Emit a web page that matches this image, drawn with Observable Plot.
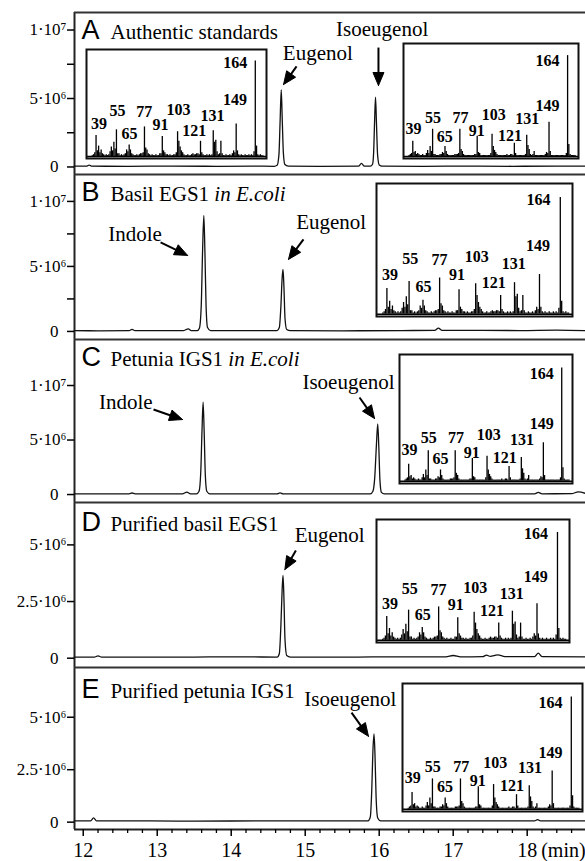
<!DOCTYPE html>
<html>
<head>
<meta charset="utf-8">
<script src="https://cdn.jsdelivr.net/npm/d3@7"></script>
<script src="https://cdn.jsdelivr.net/npm/@observablehq/plot@0.6"></script>
<style>
  html, body { margin: 0; padding: 0; background: #fff; }
  #fig { position: relative; width: 585px; height: 861px; overflow: hidden; background: #fff; }
  #fig > svg { position: absolute; }
</style>
</head>
<body>
<div id="fig"></div>
<script>
// ---------------- DATA ----------------
// retention time axis (min)
const timeTicks = [12, 13, 14, 15, 16, 17, 18];
const timeMinorTicks = [12.2, 12.4, 12.6, 12.8, 13.2, 13.4, 13.6, 13.8, 14.2, 14.4, 14.6, 14.8,
  15.2, 15.4, 15.6, 15.8, 16.2, 16.4, 16.6, 16.8, 17.2, 17.4, 17.6, 17.8, 18.2, 18.4, 18.6];
const timeUnit = "(min)";

// intensity ticks (values in units of 10^6 counts)
const yTickLabels = {0: "0", 2.5: "2.5·10⁶", 5: "5·10⁶", 10: "1·10⁷"};
const yMajorA = [0, 5, 10], yMinorA = [2.5, 7.5];
const yMajorB = [0, 5, 10], yMinorB = [2.5, 7.5];
const yMajorC = [0, 5, 10], yMinorC = [];
const yMajorD = [0, 2.5, 5], yMinorD = [];
const yMajorE = [0, 2.5, 5], yMinorE = [];

const panelLetters = ["A", "B", "C", "D", "E"];
const panelTitles = ["Authentic standards", "Basil EGS1", "Petunia IGS1", "Purified basil EGS1", "Purified petunia IGS1"];
const panelTitlesItalic = ["", "in E.coli", "in E.coli", "", ""];

// chromatograms: [time (min), intensity (10^6)]
const chromA = [[11.88,0.06],[12.05,0.06],[12.08,0.14],[12.11,0.06],[12.6,0.05],[13.2,0.06],[13.8,0.05],[14.3,0.06],
  [14.58,0.05],[14.62,0.12],[14.645,0.9],[14.66,3.2],[14.676,5.63],[14.69,3.4],[14.705,1.0],[14.725,0.18],[14.77,0.06],
  [15.2,0.05],[15.72,0.06],[15.76,0.26],[15.80,0.06],[15.88,0.06],[15.91,0.2],[15.925,1.1],[15.938,3.4],[15.95,5.09],
  [15.963,3.2],[15.978,0.9],[16.0,0.15],[16.04,0.06],[16.6,0.05],[17.2,0.06],[17.8,0.05],[18.4,0.06],[18.79,0.06]];
const chromB = [[11.88,0.06],[12.2,0.05],[12.62,0.06],[12.66,0.16],[12.70,0.06],[13.35,0.06],[13.42,0.2],[13.46,0.07],
  [13.54,0.06],[13.57,0.25],[13.595,2.0],[13.613,6.2],[13.63,8.92],[13.645,6.0],[13.66,2.0],[13.68,0.3],[13.72,0.07],
  [14.3,0.06],[14.62,0.06],[14.65,0.3],[14.672,2.0],[14.688,4.1],[14.70,4.77],[14.712,3.5],[14.727,1.0],[14.75,0.15],
  [14.8,0.06],[15.5,0.05],[16.3,0.07],[16.75,0.08],[16.80,0.26],[16.85,0.08],[17.4,0.08],[17.9,0.07],[18.4,0.1],[18.79,0.06]];
const chromC = [[11.88,0.06],[12.62,0.06],[12.66,0.14],[12.70,0.06],[13.34,0.06],[13.40,0.22],[13.45,0.07],[13.53,0.06],
  [13.565,0.3],[13.588,2.0],[13.605,5.8],[13.62,8.47],[13.635,5.6],[13.65,1.8],[13.67,0.3],[13.71,0.07],[14.2,0.06],
  [14.62,0.06],[14.66,0.15],[14.70,0.06],[15.3,0.06],[15.88,0.06],[15.915,0.3],[15.94,1.6],[15.962,4.5],[15.98,6.49],
  [15.995,4.3],[16.01,1.3],[16.03,0.2],[16.07,0.06],[16.8,0.06],[17.5,0.07],[18.1,0.07],[18.15,0.2],[18.2,0.07],
  [18.6,0.08],[18.69,0.25],[18.79,0.1]];
const chromD = [[11.88,0.05],[12.15,0.05],[12.2,0.1],[12.25,0.05],[13.3,0.05],[14.1,0.06],[14.62,0.05],[14.65,0.2],
  [14.672,1.5],[14.688,3.0],[14.70,3.65],[14.712,2.7],[14.727,0.8],[14.75,0.12],[14.8,0.05],[15.5,0.05],[16.3,0.06],
  [16.9,0.06],[17.0,0.12],[17.1,0.06],[17.4,0.07],[17.45,0.14],[17.5,0.08],[17.6,0.15],[17.7,0.07],[18.1,0.07],
  [18.15,0.22],[18.2,0.07],[18.79,0.06]];
const chromE = [[11.88,0.06],[12.1,0.06],[12.14,0.2],[12.18,0.06],[12.9,0.06],[13.5,0.05],[14.5,0.06],[15.3,0.06],
  [15.85,0.06],[15.88,0.25],[15.9,1.6],[15.915,3.4],[15.93,4.21],[15.943,3.2],[15.958,1.2],[15.98,0.2],[16.02,0.06],
  [17.0,0.06],[17.6,0.06],[18.1,0.06],[18.14,0.12],[18.18,0.06],[18.79,0.06]];

// peak annotations: label position and arrow (start -> tip) in data units
const peakLabelsA = [{name: "Eugenol", t: 15.17, v: 8.28}, {name: "Isoeugenol", t: 16.04, v: 10.09}];
const peakArrowsA = [{t1: 14.883, v1: 7.34, t2: 14.707, v2: 6.02}, {t1: 15.99, v1: 8.72, t2: 15.99, v2: 5.95}];
const peakLabelsB = [{name: "Indole", t: 12.70, v: 7.46}, {name: "Eugenol", t: 15.35, v: 8.36}];
const peakArrowsB = [{t1: 13.045, v1: 6.85, t2: 13.41, v2: 5.85}, {t1: 14.977, v1: 7.08, t2: 14.774, v2: 5.54}];
const peakLabelsC = [{name: "Indole", t: 12.576, v: 8.47}, {name: "Isoeugenol", t: 15.585, v: 10.30}];
const peakArrowsC = [{t1: 12.95, v1: 7.80, t2: 13.342, v2: 6.88}, {t1: 15.734, v1: 8.90, t2: 15.937, v2: 6.97}];
const peakLabelsD = [{name: "Eugenol", t: 15.33, v: 5.41}];
const peakArrowsD = [{t1: 14.874, v1: 4.75, t2: 14.725, v2: 3.91}];
const peakLabelsE = [{name: "Isoeugenol", t: 15.61, v: 5.88}];
const peakArrowsE = [{t1: 15.626, v1: 5.22, t2: 15.855, v2: 4.09}];

// mass spectra: [m/z, relative intensity %]
const eugenolSpectrum = [[36,1],[37,2],[38,4],[39,22],[40,6],[41,11],[42,4],[43,7],[44,3],[45,2],[46,1],[47,2],[48,1],[49,2],
  [50,5],[51,10],[52,6],[53,15],[54,8],[55,28],[56,3],[57,3],[58,1],[59,2],[60,1],[61,2],[62,3],[63,7],[64,5],[65,12],[66,7],
  [67,3],[68,2],[69,1],[70,1],[71,2],[72,1],[73,2],[74,3],[75,3],[76,4],[77,31],[78,9],[79,7],[80,3],[81,2],[82,1],[83,2],
  [84,1],[85,1],[86,2],[87,1],[88,1],[89,3],[90,3],[91,21],[92,6],[93,4],[94,2],[95,2],[96,1],[97,2],[98,1],[99,1],[100,2],
  [101,2],[102,4],[103,26],[104,16],[105,10],[106,6],[107,4],[108,2],[109,1],[110,1],[111,2],[112,1],[113,1],[114,2],[115,3],
  [116,2],[117,2],[118,3],[119,3],[120,2],[121,16],[122,4],[123,2],[124,1],[125,1],[126,2],[127,1],[128,2],[129,1],[130,2],
  [131,27],[132,15],[133,17],[134,5],[135,2],[136,3],[137,16],[138,3],[139,1],[140,1],[141,2],[142,1],[143,1],[144,2],[145,1],
  [146,3],[147,6],[148,4],[149,34],[150,6],[151,2],[152,1],[153,2],[154,1],[155,1],[156,2],[157,1],[158,1],[159,2],[160,1],
  [161,2],[162,1],[163,5],[164,100],[165,11],[166,2],[167,1],[168,2],[169,1],[170,1]];
const isoeugenolSpectrum = [[36,1],[37,2],[38,3],[39,15],[40,4],[41,5],[42,2],[43,3],[44,2],[45,1],[46,1],[47,2],[48,1],[49,1],
  [50,3],[51,6],[52,3],[53,10],[54,5],[55,27],[56,2],[57,2],[58,1],[59,1],[60,1],[61,2],[62,2],[63,4],[64,3],[65,10],[66,5],
  [67,2],[68,1],[69,1],[70,1],[71,1],[72,1],[73,2],[74,2],[75,2],[76,3],[77,27],[78,7],[79,5],[80,2],[81,1],[82,1],[83,1],
  [84,1],[85,1],[86,1],[87,1],[88,1],[89,2],[90,2],[91,20],[92,4],[93,3],[94,1],[95,1],[96,1],[97,1],[98,1],[99,1],[100,1],
  [101,1],[102,3],[103,22],[104,10],[105,6],[106,4],[107,2],[108,1],[109,1],[110,1],[111,1],[112,1],[113,1],[114,1],[115,2],
  [116,1],[117,1],[118,2],[119,2],[120,1],[121,13],[122,3],[123,1],[124,1],[125,1],[126,1],[127,1],[128,1],[129,1],[130,2],
  [131,21],[132,11],[133,7],[134,2],[135,1],[136,2],[137,5],[138,1],[139,1],[140,1],[141,1],[142,1],[143,1],[144,1],[145,1],
  [146,2],[147,4],[148,3],[149,34],[150,5],[151,1],[152,1],[153,1],[154,1],[155,1],[156,1],[157,1],[158,1],[159,1],[160,1],
  [161,1],[162,1],[163,3],[164,100],[165,12],[166,2],[167,1],[168,1],[169,1],[170,1]];

// fragment labels: [label, m/z position, intensity position]
const eugenolLabels = [["164",148.3,98.3],["149",148,58.9],["39",41.3,33.9],["55",55.8,47.6],["65",65.3,23.6],
  ["77",76.9,46.5],["91",89.6,33.3],["103",103.8,48.7],["121",116.1,27.1],["131",130.5,43]];
const isoeugenolLabels = [["164",147.7,95.1],["149",147.7,50.4],["39",39.6,27.6],["55",55.3,37.9],["65",64.9,19.7],
  ["77",77.6,37.9],["91",90.6,25.4],["103",104.4,41.3],["121",117.4,20.8],["131",131.5,36.8]];

// ---------------- LAYOUT ----------------
const W = 585, ML = 74;
const X_DOMAIN = [11.882, 18.788];
const MZ_DOMAIN = [31.5, 172.8];
const SERIF = "'Liberation Serif', 'Times New Roman', serif";
const SANS = "'Liberation Sans', Arial, sans-serif";
const HEAD_L = 13, HEAD_W = 11;

const panels = [
  {chrom: chromA, yMajor: yMajorA, yMinor: yMinorA, labels: peakLabelsA, arrows: peakArrowsA,
   top: 12, height: 162, mb: 0, yDomain: [-0.55, 11.28], titleDy: 26},
  {chrom: chromB, yMajor: yMajorB, yMinor: yMinorB, labels: peakLabelsB, arrows: peakArrowsB,
   top: 174, height: 165, mb: 0, yDomain: [-0.62, 12.07], titleDy: 26},
  {chrom: chromC, yMajor: yMajorC, yMinor: yMinorC, labels: peakLabelsC, arrows: peakArrowsC,
   top: 339, height: 163, mb: 0, yDomain: [-0.73, 14.22], titleDy: 26},
  {chrom: chromD, yMajor: yMajorD, yMinor: yMinorD, labels: peakLabelsD, arrows: peakArrowsD,
   top: 502, height: 165, mb: 0, yDomain: [-0.41, 6.87], titleDy: 28},
  {chrom: chromE, yMajor: yMajorE, yMinor: yMinorE, labels: peakLabelsE, arrows: peakArrowsE,
   top: 667, height: 194, mb: 32, yDomain: [-0.35, 7.37], titleDy: 30}
];

const insets = [
  {spectrum: eugenolSpectrum, labels: eugenolLabels, left: 86, top: 49, width: 180, height: 109},
  {spectrum: isoeugenolSpectrum, labels: isoeugenolLabels, left: 403, top: 43, width: 175, height: 115},
  {spectrum: eugenolSpectrum, labels: eugenolLabels, left: 376, top: 183, width: 196, height: 133},
  {spectrum: isoeugenolSpectrum, labels: isoeugenolLabels, left: 399, top: 354, width: 173, height: 129},
  {spectrum: eugenolSpectrum, labels: eugenolLabels, left: 376, top: 519, width: 193, height: 123},
  {spectrum: isoeugenolSpectrum, labels: isoeugenolLabels, left: 402, top: 683, width: 180, height: 128}
];

// measure text width for the italic part of titles
const measureCtx = document.createElement("canvas").getContext("2d");
function textWidth(str, font) { measureCtx.font = font; return measureCtx.measureText(str).width; }

const fig = document.getElementById("fig");

panels.forEach((p, i) => {
  const last = i === panels.length - 1;
  const plotH = p.height - p.mb;
  const xs = d3.scaleLinear(X_DOMAIN, [ML, W]);
  const ys = d3.scaleLinear(p.yDomain, [plotH, 0]);
  const heads = [], shafts = [];
  p.arrows.forEach((a, k) => {
    const x1 = xs(a.t1), y1 = ys(a.v1), x2 = xs(a.t2), y2 = ys(a.v2);
    const len = Math.hypot(x2 - x1, y2 - y1);
    const ux = (x2 - x1) / len, uy = (y2 - y1) / len;
    const bx = x2 - HEAD_L * ux, by = y2 - HEAD_L * uy;
    const nx = -uy, ny = ux;
    [[x2, y2], [bx + HEAD_W / 2 * nx, by + HEAD_W / 2 * ny], [bx - HEAD_W / 2 * nx, by - HEAD_W / 2 * ny], [x2, y2]]
      .forEach(([px, py]) => heads.push({id: k, t: xs.invert(px), v: ys.invert(py)}));
    shafts.push({t1: a.t1, v1: a.v1, t2: xs.invert(bx + 2 * ux), v2: ys.invert(by + 2 * uy)});
  });

  const titleX = 36;
  const titleFont = `21px ${SERIF}`;
  const italicDx = titleX + textWidth(panelTitles[i] + " ", titleFont);

  const marks = [
    Plot.ruleX([X_DOMAIN[0]], {stroke: "#222", strokeWidth: 2}),
    Plot.ruleY([p.yDomain[1]], {stroke: "#333", strokeWidth: 2}),
    Plot.line(p.chrom, {x: d => d[0], y: d => d[1], stroke: "#111", strokeWidth: 1.3, curve: "monotone-x"}),
    Plot.axisY({ticks: [0], tickSize: 7, tickPadding: 9, tickFormat: d => yTickLabels[d], fontSize: 17,
      fontFamily: SERIF, label: null, strokeWidth: 1.5}),
    Plot.axisY({ticks: p.yMajor.filter(d => d !== 0), tickSize: 7, tickPadding: 1, tickFormat: d => yTickLabels[d],
      fontSize: 17, fontFamily: SERIF, label: null, strokeWidth: 1.5}),
    Plot.axisY({ticks: p.yMinor, tickSize: 7, tickFormat: () => "", label: null, strokeWidth: 1.5}),
    Plot.text([panelLetters[i]], {frameAnchor: "top-left", dx: 7, dy: p.titleDy, lineAnchor: "bottom", textAnchor: "start",
      fontFamily: SANS, fontSize: 27}),
    Plot.text([panelTitles[i]], {frameAnchor: "top-left", dx: titleX, dy: p.titleDy, lineAnchor: "bottom", textAnchor: "start",
      fontFamily: SERIF, fontSize: 21}),
    Plot.text(p.labels, {x: "t", y: "v", text: "name", fontFamily: SERIF, fontSize: 21, textAnchor: "middle", lineAnchor: "middle"}),
    Plot.link(shafts, {x1: "t1", y1: "v1", x2: "t2", y2: "v2", stroke: "#000", strokeWidth: 2}),
    Plot.line(heads, {x: "t", y: "v", z: "id", fill: "#000", stroke: "#000", strokeWidth: 1, curve: "linear"})
  ];
  if (panelTitlesItalic[i]) {
    marks.push(Plot.text([panelTitlesItalic[i]], {frameAnchor: "top-left", dx: italicDx, dy: p.titleDy, lineAnchor: "bottom",
      textAnchor: "start", fontFamily: SERIF, fontSize: 21, fontStyle: "italic"}));
  }
  if (last) {
    marks.push(
      Plot.ruleY([p.yDomain[0]], {stroke: "#222", strokeWidth: 2}),
      Plot.axisX({ticks: timeTicks, tickSize: 7, tickPadding: 6, tickFormat: d => String(d), fontSize: 20,
        fontFamily: SERIF, label: null, strokeWidth: 1.5}),
      Plot.axisX({ticks: timeMinorTicks, tickSize: 4, tickFormat: () => "", label: null, strokeWidth: 1.3}),
      Plot.text([timeUnit], {x: timeTicks[timeTicks.length - 1], frameAnchor: "bottom", dx: 14, dy: 13, lineAnchor: "top",
        textAnchor: "start", fontFamily: SERIF, fontSize: 20})
    );
  }
  const svg = Plot.plot({
    width: W, height: p.height,
    marginLeft: ML, marginRight: 0, marginTop: 0, marginBottom: p.mb,
    x: {domain: X_DOMAIN, ...(last ? {} : {axis: null})},
    y: {domain: p.yDomain},
    style: {fontFamily: SERIF, overflow: "visible", background: "transparent", color: "#000"},
    marks
  });
  svg.style.left = "0px";
  svg.style.top = p.top + "px";
  fig.appendChild(svg);
});

insets.forEach(b => {
  const svg = Plot.plot({
    width: b.width, height: b.height, margin: 0,
    x: {domain: MZ_DOMAIN, axis: null},
    y: {domain: [-2, 112], axis: null},
    style: {fontFamily: SERIF, overflow: "visible", background: "transparent", color: "#000"},
    marks: [
      Plot.ruleY([0], {stroke: "#000", strokeWidth: 1.5}),
      Plot.ruleX(b.spectrum, {x: d => d[0], y1: 0, y2: d => d[1], stroke: "#000", strokeWidth: 1.3}),
      Plot.text(b.labels, {x: d => d[1], y: d => d[2], text: d => d[0], fontFamily: SERIF, fontSize: 16, fontWeight: "bold",
        textAnchor: "middle", lineAnchor: "middle"}),
      Plot.frame({stroke: "#111", strokeWidth: 2})
    ]
  });
  svg.style.left = b.left + "px";
  svg.style.top = b.top + "px";
  fig.appendChild(svg);
});
</script>
</body>
</html>
